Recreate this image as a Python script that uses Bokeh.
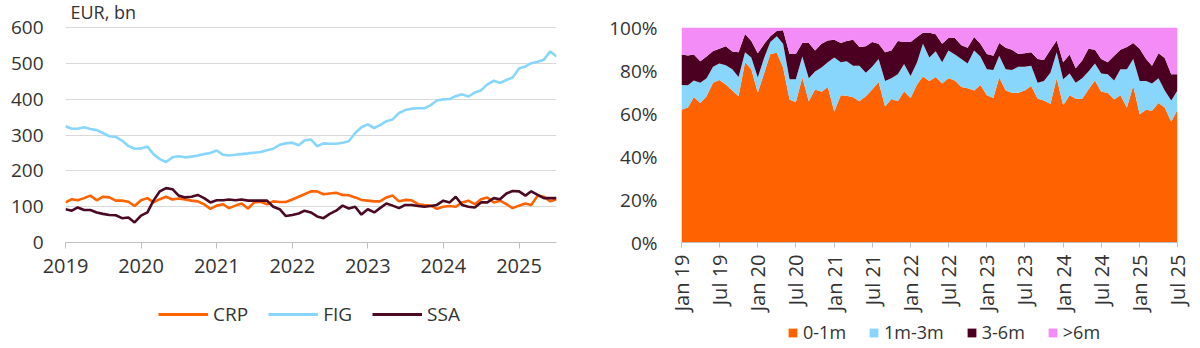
import pandas as pd
from bokeh.plotting import figure
from bokeh.models import (ColumnDataSource, Range1d, FixedTicker, DatetimeTickFormatter,
                          PrintfTickFormatter, Legend, LegendItem, Label)
from bokeh.layouts import row, column
from bokeh.embed import file_html
from bokeh.resources import INLINE

# ---------------- data ----------------
months = pd.date_range("2019-01-01", "2025-07-01", freq="MS")

# Left chart: outstanding, EUR bn
crp = [112, 121, 118, 124, 131, 118, 128, 126, 117, 117, 114, 102,
       118, 124, 112, 121, 128, 120, 123, 120, 117, 115, 107, 94,
       103, 107, 96, 103, 109, 95, 112, 114, 107, 115, 113, 113,
       120, 128, 135, 143, 143, 135, 137, 139, 133, 132, 126, 119,
       117, 115, 115, 126, 131, 115, 119, 118, 107, 105, 103, 94,
       100, 102, 100, 112, 117, 107, 121, 126, 112, 117, 107, 96,
       103, 109, 105, 131, 128, 115, 121]
fig_series = [325, 318, 318, 322, 317, 314, 306, 297, 295, 285, 270, 262,
              263, 268, 247, 233, 225, 238, 241, 238, 240, 243, 247, 250,
              257, 245, 243, 245, 247, 249, 251, 253, 258, 262, 273, 277,
              279, 272, 285, 288, 269, 277, 276, 276, 279, 283, 306, 322,
              330, 320, 328, 339, 344, 362, 370, 374, 375, 375, 384, 397,
              400, 401, 409, 414, 408, 419, 425, 442, 452, 446, 454, 461,
              486, 492, 501, 505, 511, 534, 520]
ssa = [93, 89, 98, 91, 91, 84, 80, 77, 76, 68, 70, 56,
       75, 84, 117, 143, 152, 149, 131, 126, 128, 133, 124, 112,
       118, 118, 120, 118, 120, 117, 117, 117, 117, 100, 93, 74,
       77, 81, 89, 84, 73, 68, 80, 89, 103, 95, 100, 78,
       93, 84, 96, 109, 103, 96, 105, 105, 102, 100, 102, 105,
       117, 112, 128, 105, 100, 98, 112, 112, 124, 121, 137, 144,
       143, 131, 143, 133, 124, 124, 124]

# Right chart: maturity split, % of total
share_0_1m = [61.7, 62.8, 67.7, 64.9, 68.0, 74.3, 75.6, 73.5, 70.7, 68.0, 83.8, 80.6,
              69.6, 79.0, 87.7, 88.2, 81.4, 66.5, 65.2, 76.7, 65.7, 71.2, 70.1, 72.3,
              60.9, 68.5, 68.3, 67.6, 65.7, 68.0, 71.2, 74.6, 63.3, 66.8, 65.7, 70.4,
              67.2, 73.5, 77.2, 75.1, 77.0, 73.9, 76.4, 75.4, 72.3, 71.7, 70.7, 73.2,
              68.5, 67.2, 76.7, 70.7, 69.6, 69.6, 70.7, 72.8, 66.9, 66.0, 64.4, 76.4,
              63.8, 68.5, 66.9, 66.9, 71.2, 75.4, 70.1, 69.6, 66.5, 68.5, 62.8, 72.8,
              59.7, 61.7, 61.3, 64.9, 62.8, 56.2, 61.7]
share_1m_3m = [11.5, 10.3, 7.7, 9.4, 8.4, 7.4, 7.7, 9.0, 9.9, 9.0, 4.7, 5.5,
               7.1, 7.1, 5.5, 7.7, 11.0, 9.4, 10.7, 9.8, 10.7, 8.3, 11.3, 11.5,
               25.2, 15.3, 16.0, 14.6, 16.5, 11.0, 10.5, 10.8, 11.8, 9.6, 12.6, 12.6,
               10.3, 10.3, 15.2, 11.0, 12.0, 9.9, 12.9, 12.0, 13.1, 11.6, 18.6, 13.3,
               12.1, 13.0, 10.2, 9.9, 10.6, 12.1, 11.0, 9.4, 7.4, 9.1, 14.6, 12.1,
               12.1, 10.1, 7.4, 9.5, 8.3, 7.9, 8.5, 8.7, 8.9, 12.1, 17.8, 12.6,
               15.4, 13.4, 12.6, 11.5, 7.9, 9.8, 9.0]
share_3_6m = [14.2, 13.9, 12.0, 10.0, 10.1, 7.4, 6.8, 8.8, 8.2, 11.5, 8.5, 7.6,
              11.3, 6.3, 2.7, 2.5, 6.3, 11.8, 11.8, 6.3, 16.4, 9.8, 11.0, 10.2,
              8.2, 9.0, 9.4, 12.1, 8.7, 12.3, 11.5, 7.0, 13.4, 12.9, 15.4, 10.2,
              15.7, 11.8, 5.2, 11.5, 7.9, 8.6, 5.8, 7.7, 6.3, 7.3, 6.3, 5.9,
              7.1, 6.7, 5.9, 10.0, 9.4, 6.0, 6.3, 6.3, 11.1, 9.8, 10.6, 5.5,
              7.9, 8.8, 6.8, 8.2, 10.6, 6.3, 6.8, 5.5, 11.5, 9.0, 10.3, 7.4,
              15.0, 10.3, 8.3, 11.6, 15.1, 12.3, 7.6]
share_over_6m = [12.6, 13.0, 12.6, 15.7, 13.5, 10.9, 9.9, 8.7, 11.2, 11.5, 3.0, 6.3,
                 12.0, 7.6, 4.1, 1.6, 1.3, 12.3, 12.3, 7.2, 7.2, 10.7, 7.6, 6.0,
                 5.7, 7.2, 6.3, 5.7, 9.1, 8.7, 6.8, 7.6, 11.5, 10.7, 6.3, 6.8,
                 6.8, 4.4, 2.4, 2.4, 3.1, 7.6, 4.9, 4.9, 8.3, 9.4, 4.4, 7.6,
                 12.3, 13.1, 7.2, 9.4, 10.4, 12.3, 12.0, 11.5, 14.6, 15.1, 10.4, 6.0,
                 16.2, 12.6, 18.9, 15.4, 9.9, 10.4, 14.6, 16.2, 13.1, 10.4, 9.1, 7.2,
                 9.9, 14.6, 17.8, 12.0, 14.2, 21.7, 21.7]

year_ticks = ["2019-01-01", "2020-01-01", "2021-01-01", "2022-01-01",
              "2023-01-01", "2024-01-01", "2025-01-01"]
half_year_ticks = ["2019-01-01", "2019-07-01", "2020-01-01", "2020-07-01", "2021-01-01",
                   "2021-07-01", "2022-01-01", "2022-07-01", "2023-01-01", "2023-07-01",
                   "2024-01-01", "2024-07-01", "2025-01-01", "2025-07-01"]
y_ticks_left = [0, 100, 200, 300, 400, 500, 600]
y_ticks_right = [0, 20, 40, 60, 80, 100]

line_names = ["CRP", "FIG", "SSA"]
line_colors = ["#FF6200", "#89D6FD", "#4B0A24"]
area_names = ["0-1m", "1m-3m", "3-6m", ">6m"]
area_colors = ["#FF6200", "#89D6FD", "#4B0021", "#F48CF8"]

FONT = "Open Sans"
TXT = "#333333"

def ms(d):
    return pd.Timestamp(d).value / 1e6

def legend_figure(width, height):
    f = figure(width=width, height=height, output_backend="svg", toolbar_location=None,
               x_axis_location=None, y_axis_location=None,
               min_border_top=0, min_border_bottom=0,
               min_border_left=0, min_border_right=0,
               x_range=Range1d(0, 1), y_range=Range1d(0, 1))
    f.outline_line_color = None
    f.xgrid.grid_line_color = None
    f.ygrid.grid_line_color = None
    return f

# ---------------- left chart ----------------
src_l = ColumnDataSource(dict(date=months, CRP=crp, FIG=fig_series, SSA=ssa))

# frame spans y 0..242 px; 600 sits at y 27 px, so the range top lies above 600
left_top = 600 * 242 / (242 - 27.3)
p1 = figure(width=600, height=300, x_axis_type="datetime", output_backend="svg",
            toolbar_location=None, min_border_left=65, min_border_right=44,
            min_border_top=0, min_border_bottom=58,
            x_range=Range1d(months[0], months[-1]), y_range=Range1d(0, left_top))
p1.outline_line_color = None

for name, col in zip(line_names, line_colors):
    p1.line("date", name, source=src_l, line_color=col, line_width=2.6)

p1.add_layout(Label(x=months[0], y=600, x_offset=5, y_offset=4, text="EUR, bn",
                    text_font=FONT, text_font_size="18px", text_color=TXT,
                    text_baseline="bottom"))

p1.xgrid.grid_line_color = None
p1.ygrid.grid_line_color = "#D9D9D9"
p1.ygrid.grid_line_width = 1
p1.yaxis.ticker = FixedTicker(ticks=y_ticks_left)
p1.yaxis.axis_line_color = None
p1.yaxis.major_tick_line_color = None
p1.yaxis.minor_tick_line_color = None
p1.yaxis.major_label_standoff = 16
p1.yaxis.major_label_text_font = FONT
p1.yaxis.major_label_text_font_size = "19px"
p1.yaxis.major_label_text_color = TXT

p1.xaxis.ticker = FixedTicker(ticks=[ms(t) for t in year_ticks])
fmt_y = "%Y"
p1.xaxis.formatter = DatetimeTickFormatter(years=fmt_y, months=fmt_y, days=fmt_y,
                                           hours=fmt_y, minutes=fmt_y)
p1.xaxis.axis_line_color = "#BFBFBF"
p1.xaxis.major_tick_line_color = "#BFBFBF"
p1.xaxis.major_tick_out = 6
p1.xaxis.major_tick_in = 0
p1.xaxis.minor_tick_line_color = None
p1.xaxis.major_label_standoff = 10
p1.xaxis.major_label_text_font = FONT
p1.xaxis.major_label_text_font_size = "20px"
p1.xaxis.major_label_text_color = TXT

# legend strip below the left chart (y 300..348); its frame is aligned with p1's frame
l1 = legend_figure(600, 48)
items1 = []
for name, col in zip(line_names, line_colors):
    r = l1.line(x=[2, 3], y=[2, 2], line_color=col, line_width=3)
    items1.append(LegendItem(label=name, renderers=[r]))
leg1 = Legend(items=items1, orientation="horizontal", location=(93, 21),
              glyph_width=50, glyph_height=16, label_standoff=5, spacing=20,
              padding=0, margin=0, border_line_color=None, background_fill_alpha=0,
              label_text_font=FONT, label_text_font_size="19px", label_text_color=TXT)
l1.add_layout(leg1, "center")

# ---------------- right chart ----------------
src_r = ColumnDataSource(dict(date=months, **{"0-1m": share_0_1m, "1m-3m": share_1m_3m,
                                              "3-6m": share_3_6m, ">6m": share_over_6m}))

p2 = figure(width=600, height=320, x_axis_type="datetime", output_backend="svg",
            toolbar_location=None, min_border_left=81, min_border_right=23,
            min_border_top=27, min_border_bottom=78,
            x_range=Range1d(months[0], months[-1]), y_range=Range1d(0, 100))
p2.outline_line_color = None

p2.varea_stack(stackers=area_names, x="date", color=area_colors, source=src_r)

p2.xgrid.grid_line_color = None
p2.ygrid.grid_line_color = None
p2.yaxis.ticker = FixedTicker(ticks=y_ticks_right)
p2.yaxis.formatter = PrintfTickFormatter(format="%d%%")
p2.yaxis.axis_line_color = None
p2.yaxis.major_tick_line_color = None
p2.yaxis.minor_tick_line_color = None
p2.yaxis.major_label_standoff = 18
p2.yaxis.major_label_text_font = FONT
p2.yaxis.major_label_text_font_size = "19px"
p2.yaxis.major_label_text_color = TXT

p2.xaxis.ticker = FixedTicker(ticks=[ms(t) for t in half_year_ticks])
fmt_m = "%b %y"
p2.xaxis.formatter = DatetimeTickFormatter(years=fmt_m, months=fmt_m, days=fmt_m,
                                           hours=fmt_m, minutes=fmt_m)
p2.xaxis.axis_line_color = "#BFBFBF"
p2.xaxis.major_tick_line_color = "#BFBFBF"
p2.xaxis.major_tick_out = 5
p2.xaxis.major_tick_in = 0
p2.xaxis.minor_tick_line_color = None
p2.xaxis.major_label_standoff = 7
p2.xaxis.major_label_orientation = 3.14159265 / 2
p2.xaxis.major_label_text_font = FONT
p2.xaxis.major_label_text_font_size = "20px"
p2.xaxis.major_label_text_color = TXT

# legend strip below the right chart (y 320..348); its frame is aligned with p2's frame
l2 = legend_figure(600, 28)
items2 = []
for name, col in zip(area_names, area_colors):
    r = l2.varea(x=[2, 3], y1=[2, 2], y2=[3, 3], fill_color=col)
    items2.append(LegendItem(label=name, renderers=[r]))
leg2 = Legend(items=items2, orientation="horizontal", location=(106, 4),
              glyph_width=11, glyph_height=11, label_standoff=5, spacing=22,
              padding=0, margin=0, border_line_color=None, background_fill_alpha=0,
              label_text_font=FONT, label_text_font_size="18px", label_text_color=TXT)
l2.add_layout(leg2, "center")

layout = row(column(p1, l1), column(p2, l2))
open("out.html", "w").write(file_html(layout, INLINE))
